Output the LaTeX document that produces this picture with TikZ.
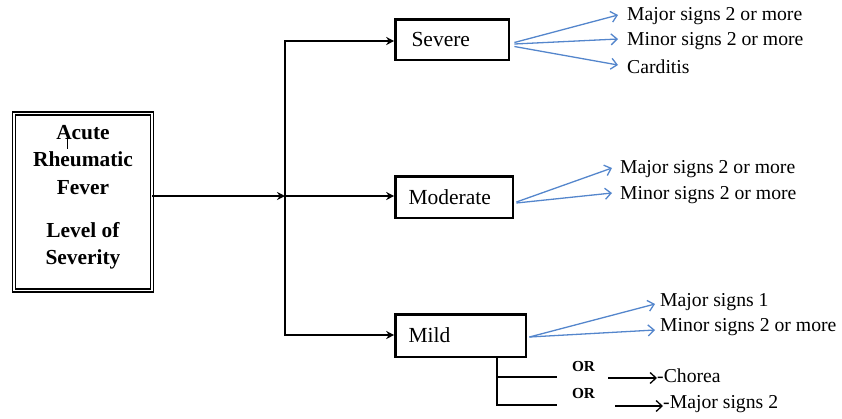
\documentclass[tikz,border=0pt]{standalone}
\usepackage{fontspec}
\setmainfont{Liberation Serif}
\usetikzlibrary{arrows.meta,calc}

\definecolor{signblue}{RGB}{84,134,204}

\tikzset{
  trunk/.style={line width=2.6pt, line cap=rect},
  trunkarrow/.style={trunk, -{Stealth[length=8pt,width=8pt]}},
  levelbox/.style={draw, line width=2.6pt, anchor=west, align=left,
    inner ysep=0pt, font=\fontsize{21.5}{24}\selectfont},
  signlabel/.style={anchor=base west, inner sep=0pt,
    font=\fontsize{19.7}{22}\selectfont},
  signarrow/.style={draw=signblue, line width=1.3pt,
    -{Straight Barb[length=6pt,width=11pt,line width=1.3pt]}},
  orline/.style={line width=1.3pt},
  orarrow/.style={line width=1.3pt,
    -{Straight Barb[length=6pt,width=11pt,line width=1.3pt]}},
  ortext/.style={anchor=base, inner sep=0pt,
    font=\bfseries\fontsize{15.3}{17}\selectfont},
}

\begin{document}
\begin{tikzpicture}[x=1pt,y=-1pt]
\useasboundingbox (0,0) rectangle (842,418);

% title box with a double frame
\node[draw, double, double distance=1.6pt, line width=1.6pt,
      minimum width=138pt, minimum height=177pt, inner sep=0pt]
      (arf) at (83,202) {};
\node[align=center, inner sep=0pt,
      font=\bfseries\fontsize{21.4}{27.5}\selectfont]
      (arftext) at (83,197)
      {Acute\\Rheumatic\\Fever\\[15.5pt]Level of\\Severity};
\draw[line width=0.8pt] (67,137) -- (67,149);

% trunk and branches
\coordinate (j) at (285,196);
\coordinate (jt) at (285,41);
\coordinate (jb) at (285,335);
\draw[trunkarrow] (arf.east |- j) -- (j);
\draw[trunk] (jt) -- (jb);

% severity levels
\node[levelbox, text width=81.6pt, inner xsep=16pt, minimum height=40.6pt]
      (severe) at (394.2,39.5) {Severe};
\node[levelbox, text width=91.6pt, inner xsep=13pt, minimum height=41.6pt]
      (moderate) at (394.2,197) {Moderate};
\node[levelbox, text width=104.6pt, inner xsep=13pt, minimum height=42.6pt]
      (mild) at (394.2,335.5) {Mild};

\draw[trunkarrow] (jt) -- (jt -| severe.west);
\draw[trunkarrow] (j) -- (j -| moderate.west);
\draw[trunkarrow] (jb) -- (jb -| mild.west);

% signs for severe
\node[signlabel] (sv1) at (627,20) {Major signs 2 or more};
\node[signlabel] (sv2) at (627,45) {Minor signs 2 or more};
\node[signlabel] (sv3) at (627,73) {Carditis};
\draw[signarrow] ($(severe.east)+(4,3)$) -- ($(sv1.base west)+(-9,-5)$);
\draw[signarrow] ($(severe.east)+(4,4.5)$) -- ($(sv2.base west)+(-9,-6)$);
\draw[signarrow] ($(severe.east)+(4,7)$) -- ($(sv3.base west)+(-9,-8)$);

% signs for moderate
\node[signlabel] (md1) at (620,173) {Major signs 2 or more};
\node[signlabel] (md2) at (620,199) {Minor signs 2 or more};
\draw[signarrow] ($(moderate.east)+(2,5)$) -- ($(md1.base west)+(-8,-5)$);
\draw[signarrow] ($(moderate.east)+(2,6)$) -- ($(md2.base west)+(-8,-6)$);

% signs for mild
\node[signlabel] (ml1) at (660,306) {Major signs 1};
\node[signlabel] (ml2) at (660,331) {Minor signs 2 or more};
\draw[signarrow] ($(mild.east)+(2,1.5)$) -- ($(ml1.base west)+(-5,-2)$);
\draw[signarrow] ($(mild.east)+(2,1.5)$) -- ($(ml2.base west)+(-5,-1)$);

% alternatives under mild
\coordinate (m0) at (497,358);
\coordinate (m1) at (497,377);
\coordinate (m2) at (497,405);
\coordinate (m1e) at (557,377);
\coordinate (m2e) at (557,405);
\draw[orline] (m0) -- (m2) -- (m2e);
\draw[orline] (m1) -- (m1e);
\node[ortext] (or1) at (583.5,371) {OR};
\node[ortext] (or2) at (583.5,398) {OR};
\node[signlabel] (ch) at (657,382) {-Chorea};
\node[signlabel] (mj2) at (663,408) {-Major signs 2};
\coordinate (a1) at (608,378);
\coordinate (a2) at (615,406);
\draw[orarrow] (a1) -- (a1 -| ch.west);
\draw[orarrow] (a2) -- (a2 -| mj2.west);
\end{tikzpicture}
\end{document}
